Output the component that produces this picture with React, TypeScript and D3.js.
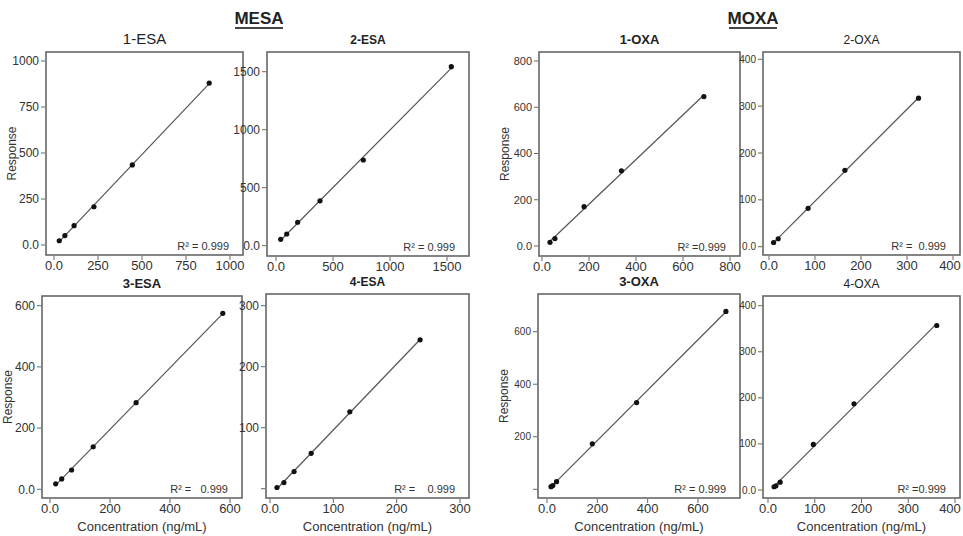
import React from "react";
import * as d3 from "d3";

// calibration curves
const panelTitles = ["1-ESA", "2-ESA", "1-OXA", "2-OXA", "3-ESA", "4-ESA", "3-OXA", "4-OXA"];

const concentrations = [
  [30, 62, 114, 227, 445, 882],
  [41, 94, 190, 386, 766, 1538],
  [34, 55, 179, 338, 689],
  [10, 20, 85, 165, 325],
  [19, 39, 72, 144, 287, 576],
  [11, 22, 38, 65, 126, 237],
  [16, 23, 38, 180, 356, 711],
  [13, 17, 26, 97, 184, 361],
];

const responses = [
  [23, 51, 105, 208, 435, 880],
  [55, 101, 202, 387, 739, 1543],
  [16, 32, 170, 325, 646],
  [9, 17, 82, 163, 317],
  [18, 34, 63, 139, 283, 575],
  [2, 10, 28, 58, 126, 244],
  [10, 14, 29, 173, 330, 677],
  [7, 9, 17, 99, 187, 357],
];

const xTicks = [
  [0, 250, 500, 750, 1000],
  [0, 500, 1000, 1500],
  [0, 200, 400, 600, 800],
  [0, 100, 200, 300, 400],
  [0, 200, 400, 600],
  [0, 100, 200, 300],
  [0, 200, 400, 600],
  [0, 100, 200, 300, 400],
];

const yTicks = [
  [0, 250, 500, 750, 1000],
  [0, 500, 1000, 1500],
  [0, 200, 400, 600, 800],
  [0, 100, 200, 300, 400],
  [0, 200, 400, 600],
  [0, 100, 200, 300],
  [0, 200, 400, 600],
  [0, 100, 200, 300, 400],
];

// panels where the zero tick on y has no label
const hideYZero = [false, false, false, false, false, true, true, false];

const r2Labels = [
  "R² = 0.999", "R² = 0.999", "R² =0.999", "R² =  0.999",
  "R² =   0.999", "R² =    0.999", "R² = 0.999", "R² =0.999",
];

const groupTitles = ["MESA", "MOXA"];

// layout: frame box, pixel anchors of first / last tick
const layout = [
  { fx: 46, fy: 52, fw: 197, fh: 203, xr: [54, 230], yr: [245, 61], yFont: 12, tFont: 15, tBold: false, resp: true, conc: false },
  { fx: 267, fy: 52, fw: 202, fh: 204, xr: [276, 447], yr: [245.7, 71.7], yFont: 12, tFont: 12, tBold: true, resp: false, conc: false },
  { fx: 539, fy: 52, fw: 201, fh: 204, xr: [542, 730], yr: [246, 61], yFont: 11, tFont: 13, tBold: true, resp: true, conc: false },
  { fx: 763, fy: 52, fw: 197, fh: 203, xr: [769, 953], yr: [246.7, 59.3], yFont: 10, tFont: 12, tBold: false, resp: false, conc: false },
  { fx: 42, fy: 296, fw: 200, fh: 202, xr: [50, 230], yr: [489.3, 305.7], yFont: 12, tFont: 13, tBold: true, resp: true, conc: true },
  { fx: 266, fy: 294, fw: 203, fh: 204, xr: [270, 460], yr: [488.7, 305.7], yFont: 12, tFont: 12, tBold: true, resp: false, conc: true },
  { fx: 538, fy: 294, fw: 202, fh: 204, xr: [547, 698], yr: [489.3, 331.7], yFont: 10, tFont: 13, tBold: true, resp: true, conc: true },
  { fx: 763, fy: 296, fw: 197, fh: 202, xr: [768, 955], yr: [490, 305.7], yFont: 10, tFont: 12, tBold: false, resp: false, conc: true },
];

const groupCenters = [259, 753];
const font = "'Liberation Sans', Arial, sans-serif";
const W = 963;

const fmt = (v: number) => (v === 0 ? "0.0" : String(v));

function Panel({ i }: { i: number }) {
  const L = layout[i];
  const xs = concentrations[i];
  const ys = responses[i];
  const xt = xTicks[i];
  const yt = yTicks[i];
  const x = d3.scaleLinear().domain([xt[0], xt[xt.length - 1]]).range(L.xr);
  const y = d3.scaleLinear().domain([yt[0], yt[yt.length - 1]]).range(L.yr);

  // least squares fit, drawn across the measured range
  const mx = d3.mean(xs)!;
  const my = d3.mean(ys)!;
  const slope = d3.sum(xs, (v, k) => (v - mx) * (ys[k] - my)) / d3.sum(xs, (v) => (v - mx) ** 2);
  const icpt = my - slope * mx;
  const [x0, x1] = d3.extent(xs) as [number, number];
  const line = d3.line<number>().x((v) => x(v)).y((v) => y(icpt + slope * v));

  const bottom = L.fy + L.fh;
  const cx = L.fx + L.fw / 2;

  return (
    <g fontFamily={font}>
      <text x={cx} y={L.fy - 8} textAnchor="middle" fontSize={L.tFont}
        fontWeight={L.tBold ? "bold" : "normal"} fill="#222">{panelTitles[i]}</text>
      <rect x={L.fx} y={L.fy} width={L.fw} height={L.fh} fill="#fff" stroke="#666" strokeWidth={1.6} />
      {yt.map((t) => (
        <g key={"y" + t}>
          <line x1={L.fx - 5} x2={L.fx - 1} y1={y(t)} y2={y(t)} stroke="#666" strokeWidth={1} />
          {!(t === 0 && hideYZero[i]) && (
            <text x={L.fx - 7} y={y(t)} dy="0.35em" textAnchor="end" fontSize={L.yFont} fill="#333">{fmt(t)}</text>
          )}
        </g>
      ))}
      {xt.map((t) => {
        // keep the last label inside the page
        const tx = Math.min(x(t), W - 13);
        return (
          <g key={"x" + t}>
            <line x1={x(t)} x2={x(t)} y1={bottom + 1} y2={bottom + 5} stroke="#666" strokeWidth={1} />
            <text x={tx} y={bottom + 15} textAnchor="middle" fontSize={13} fill="#333">{fmt(t)}</text>
          </g>
        );
      })}
      <path d={line([x0, x1]) || ""} fill="none" stroke="#555" strokeWidth={1.2} />
      {xs.map((v, k) => (
        <circle key={k} cx={x(v)} cy={y(ys[k])} r={2.6} fill="#111" />
      ))}
      <text x={L.fx + L.fw - 14} y={bottom - 9} dy="0.35em" textAnchor="end" fontSize={11}
        fill="#333" style={{ whiteSpace: "pre" }}>{r2Labels[i]}</text>
      {L.resp && (
        <text transform={`translate(${L.fx - 30},${L.fy + L.fh / 2}) rotate(-90)`} textAnchor="middle"
          fontSize={12} fill="#333">Response</text>
      )}
      {L.conc && (
        <text x={cx} y={bottom + 33} textAnchor="middle" fontSize={13} fill="#333">Concentration (ng/mL)</text>
      )}
    </g>
  );
}

export default function App() {
  return (
    <svg width={W} height={536} style={{ position: "absolute", left: 0, top: 0, background: "#fff" }}>
      <rect width={W} height={536} fill="#fff" />
      {groupTitles.map((g, k) => (
        <g key={g}>
          <text x={groupCenters[k]} y={24} textAnchor="middle" fontFamily={font} fontWeight="bold"
            fontSize={17} fill="#222">{g}</text>
          <line x1={groupCenters[k] - 24} x2={groupCenters[k] + 24} y1={28} y2={28} stroke="#444" strokeWidth={1.8} />
        </g>
      ))}
      {panelTitles.map((_, i) => (
        <Panel key={i} i={i} />
      ))}
    </svg>
  );
}
